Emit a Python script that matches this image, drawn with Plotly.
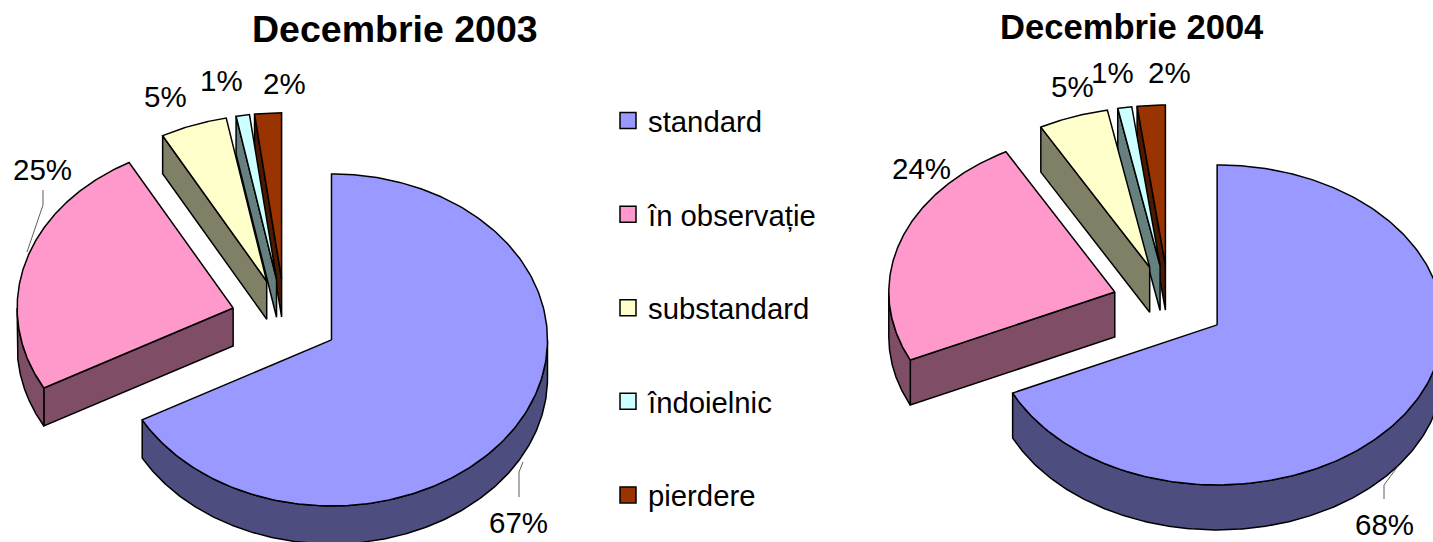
import numpy as np
import plotly.graph_objects as go

categories = ["standard", "în observație", "substandard", "îndoielnic", "pierdere"]
values_2003 = [67, 25, 5, 1, 2]
values_2004 = [68, 24, 5, 1, 2]
top_colors = ["#9999FF", "#FF99CC", "#FFFFCC", "#CCFFFF", "#993300"]
side_colors = ["#4D4D80", "#804D66", "#808066", "#668080", "#4D1A00"]
title_2003 = "Decembrie 2003"
title_2004 = "Decembrie 2004"

FONT = "Liberation Sans, Arial, sans-serif"
fig = go.Figure()


def poly(x, y, color, lw=1.5):
    fig.add_trace(go.Scatter(x=x, y=y, mode="lines", fill="toself", fillcolor=color,
                             line=dict(color="black", width=lw), hoverinfo="skip",
                             showlegend=False))


def draw_pie(values, cx, cy, rx, ry, ex, ey, depth):
    cum = np.cumsum([0] + list(values)) / sum(values) * 360.0
    slices = []
    for i in range(len(values)):
        a0, a1 = cum[i], cum[i + 1]
        mid = np.radians((a0 + a1) / 2)
        ax = cx + ex * np.sin(mid)
        ay = cy - ey * np.cos(mid)
        slices.append((ay, i, a0, a1, ax))
    # back-to-front painter's order
    for ay, i, a0, a1, ax in sorted(slices):
        th = np.radians(np.linspace(a0, a1, 240))
        px = ax + rx * np.sin(th)
        py = ay - ry * np.cos(th)
        # radial wall on the start edge, visible on the left half
        if 180 < a0 < 360:
            poly([ax, px[0], px[0], ax, ax],
                 [ay, py[0], py[0] + depth, ay + depth, ay], side_colors[i])
        # outer wall on the front half
        lo, hi = max(a0, 90), min(a1, 270)
        if hi > lo:
            t = np.radians(np.linspace(lo, hi, 240))
            wx = ax + rx * np.sin(t)
            wy = ay - ry * np.cos(t)
            poly(np.r_[wx, wx[::-1], wx[0]], np.r_[wy, wy[::-1] + depth, wy[0]], side_colors[i])
        poly(np.r_[ax, px, ax], np.r_[ay, py, ay], top_colors[i])


draw_pie(values_2003, 285, 319.3, 216, 166, 54, 40.5, 38)
draw_pie(values_2004, 1169, 304, 226, 160, 57, 39, 45)

# leader lines
for lx, ly in [([43, 43, 27], [190, 205, 252]),
               ([519, 519, 523], [497, 472, 462]),
               ([1384, 1384, 1398], [499, 485, 466])]:
    fig.add_trace(go.Scatter(x=lx, y=ly, mode="lines", line=dict(color="#333333", width=0.8),
                             hoverinfo="skip", showlegend=False))

# legend entries
for name, color in zip(categories, top_colors):
    fig.add_trace(go.Scatter(x=[None], y=[None], mode="markers", name=name, legendgroup=name,
                             marker=dict(symbol="square", size=17, color=color,
                                         line=dict(color="black", width=1.5))))

labels = [("5%", 165, 96), ("1%", 221, 80), ("2%", 284, 83), ("25%", 42, 169), ("67%", 518, 522),
          ("5%", 1072, 86), ("1%", 1112.5, 72), ("2%", 1169, 72), ("24%", 921, 168), ("68%", 1384, 524)]
ann = [dict(x=x, y=y, text=t, showarrow=False, font=dict(size=29.5, color="black", family=FONT),
            xref="x", yref="y") for t, x, y in labels]
ann.append(dict(x=395, y=29, text=f"<b>{title_2003}</b>", showarrow=False, xref="x", yref="y",
                font=dict(size=37.5, color="black", family=FONT)))
ann.append(dict(x=1131.5, y=27, text=f"<b>{title_2004}</b>", showarrow=False, xref="x", yref="y",
                font=dict(size=34.6, color="black", family=FONT)))

fig.update_layout(
    width=1433, height=542, autosize=False, margin=dict(l=0, r=0, t=0, b=0),
    paper_bgcolor="white", plot_bgcolor="white", annotations=ann,
    xaxis=dict(range=[0, 1433], visible=False, fixedrange=True),
    yaxis=dict(range=[542, 0], visible=False, fixedrange=True),
    legend=dict(x=608 / 1433, y=1 - 95 / 542, xanchor="left", yanchor="top",
                tracegroupgap=52.5, font=dict(size=29.3, color="black", family=FONT),
                bgcolor="rgba(0,0,0,0)", itemclick=False, itemdoubleclick=False),
)

fig.write_html("out.html", config={"displayModeBar": False},
               post_script="document.body.style.margin='0';")
